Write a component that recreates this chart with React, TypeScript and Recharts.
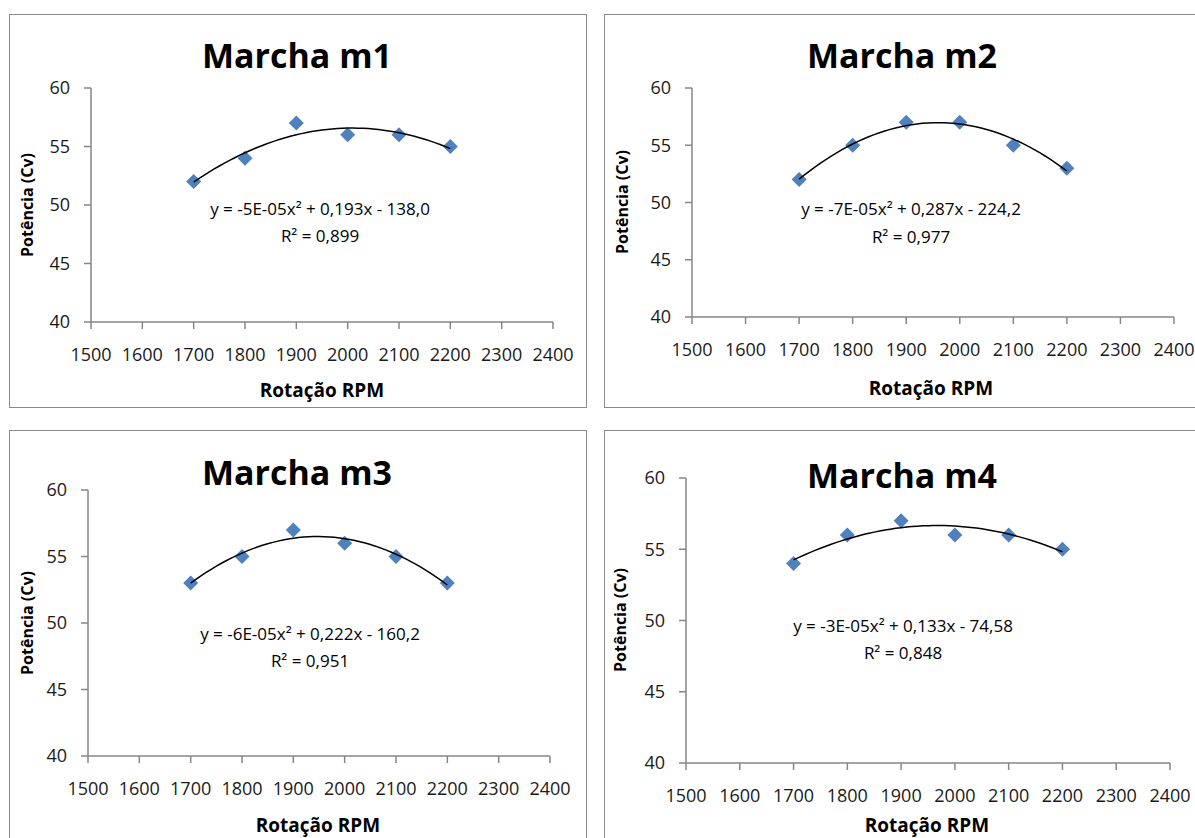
import React from 'react';
import { ScatterChart, Scatter, XAxis, YAxis } from 'recharts';

// ---- data ----
const rpm = [1700, 1800, 1900, 2000, 2100, 2200];
const potM1 = [52, 54, 57, 56, 56, 55];
const potM2 = [52, 55, 57, 57, 55, 53];
const potM3 = [53, 55, 57, 56, 55, 53];
const potM4 = [54, 56, 57, 56, 56, 55];
const titles = ['Marcha m1', 'Marcha m2', 'Marcha m3', 'Marcha m4'];
const equations = [
  'y = -5E-05x² + 0,193x - 138,0',
  'y = -7E-05x² + 0,287x - 224,2',
  'y = -6E-05x² + 0,222x - 160,2',
  'y = -3E-05x² + 0,133x - 74,58',
];
const r2Labels = ['R² = 0,899', 'R² = 0,977', 'R² = 0,951', 'R² = 0,848'];
const xTicks = [1500, 1600, 1700, 1800, 1900, 2000, 2100, 2200, 2300, 2400];
const yTicks = [40, 45, 50, 55, 60];
const xTitle = 'Rotação RPM';
const yTitle = 'Potência (Cv)';

// ---- layout (page coordinates) ----
type Layout = {
  box: { left: number; top: number; w: number; h: number };
  plot: { l: number; t: number; r: number; b: number };
  title: [number, number];
  eq: [number, number];
  r2: [number, number];
  xt: [number, number];
  yt: [number, number];
};
const layouts: Layout[] = [
  { box: { left: 9, top: 14, w: 578, h: 394 }, plot: { l: 91, t: 88, r: 553, b: 322 }, title: [297, 55], eq: [320, 208], r2: [320, 235], xt: [322, 390], yt: [27, 205] },
  { box: { left: 604, top: 14, w: 600, h: 394 }, plot: { l: 692, t: 88, r: 1174, b: 317 }, title: [902, 55], eq: [911, 208], r2: [911, 236], xt: [931, 388], yt: [622, 202] },
  { box: { left: 9, top: 430, w: 578, h: 430 }, plot: { l: 88, t: 490, r: 550, b: 756 }, title: [297, 472], eq: [310, 633], r2: [310, 660], xt: [318, 825], yt: [27, 623] },
  { box: { left: 604, top: 430, w: 600, h: 430 }, plot: { l: 686, t: 478, r: 1170, b: 763 }, title: [902, 475], eq: [903, 625], r2: [903, 652], xt: [927, 825], yt: [620, 620] },
];

// quadratic least-squares trendline (as Excel computes it)
function fitQuadratic(xs: number[], ys: number[]) {
  const c0 = 1950, s = 100;
  const t = xs.map((x) => (x - c0) / s);
  const S = (f: (i: number) => number) => t.reduce((acc, _, i) => acc + f(i), 0);
  const n = t.length;
  const s1 = S((i) => t[i]), s2 = S((i) => t[i] ** 2), s3 = S((i) => t[i] ** 3), s4 = S((i) => t[i] ** 4);
  const sy = S((i) => ys[i]), sty = S((i) => t[i] * ys[i]), st2y = S((i) => t[i] ** 2 * ys[i]);
  const A = [[n, s1, s2], [s1, s2, s3], [s2, s3, s4]];
  const B = [sy, sty, st2y];
  const det = (M: number[][]) =>
    M[0][0] * (M[1][1] * M[2][2] - M[1][2] * M[2][1]) -
    M[0][1] * (M[1][0] * M[2][2] - M[1][2] * M[2][0]) +
    M[0][2] * (M[1][0] * M[2][1] - M[1][1] * M[2][0]);
  const D = det(A);
  const coef = [0, 1, 2].map((k) => det(A.map((row, r) => row.map((v, c) => (c === k ? B[r] : v)))) / D);
  const f = (x: number) => {
    const tt = (x - c0) / s;
    return coef[0] + coef[1] * tt + coef[2] * tt * tt;
  };
  const pts = [];
  for (let x = xs[0]; x <= xs[xs.length - 1]; x += 10) pts.push({ x, y: f(x) });
  return pts;
}

const series = [potM1, potM2, potM3, potM4];

const Diamond = (props: any) => {
  const { cx, cy } = props;
  if (cx == null || cy == null) return <g />;
  const r = 7.5;
  return <path d={`M${cx},${cy - r}L${cx + r},${cy}L${cx},${cy + r}L${cx - r},${cy}Z`} fill="#4f81bd" />;
};
const NoShape = () => <g />;

const font = "'Open Sans', 'DejaVu Sans', sans-serif";
const Y_AXIS_W = 40;
const X_AXIS_H = 40;

function Panel({ idx }: { idx: number }) {
  const L = layouts[idx];
  const data = rpm.map((x, i) => ({ x, y: series[idx][i] }));
  const trend = fitQuadratic(rpm, series[idx]);
  const margin = {
    left: L.plot.l - L.box.left - Y_AXIS_W,
    top: L.plot.t - L.box.top,
    right: L.box.left + L.box.w - L.plot.r,
    bottom: L.box.top + L.box.h - L.plot.b - X_AXIS_H,
  };
  const center = (p: [number, number], style: React.CSSProperties, text: string, rotate = false) => (
    <div
      style={{
        position: 'absolute',
        left: p[0],
        top: p[1],
        transform: `translate(-50%, -50%)${rotate ? ' rotate(-90deg)' : ''}`,
        whiteSpace: 'nowrap',
        fontFamily: font,
        color: '#000',
        lineHeight: 1,
        ...style,
      }}
    >
      {text}
    </div>
  );
  return (
    <>
      <div
        style={{
          position: 'absolute',
          left: L.box.left,
          top: L.box.top,
          width: L.box.w,
          height: L.box.h,
          border: '1.5px solid #8a8a8a',
          boxSizing: 'border-box',
        }}
      />
      <div style={{ position: 'absolute', left: L.box.left, top: L.box.top }}>
        <ScatterChart width={L.box.w} height={L.box.h} margin={margin}>
          <XAxis
            type="number"
            dataKey="x"
            domain={[1500, 2400]}
            ticks={xTicks}
            interval={0}
            height={X_AXIS_H}
            tickSize={7}
            tickMargin={19}
            axisLine={{ stroke: '#868686', strokeWidth: 1.5 }}
            tickLine={{ stroke: '#868686', strokeWidth: 1.5 }}
            tick={{ fill: '#1a1a1a', fontSize: 18, fontFamily: font }}
            allowDataOverflow
          />
          <YAxis
            type="number"
            dataKey="y"
            domain={[40, 60]}
            ticks={yTicks}
            interval={0}
            width={Y_AXIS_W}
            tickSize={7}
            tickMargin={14}
            axisLine={{ stroke: '#868686', strokeWidth: 1.5 }}
            tickLine={{ stroke: '#868686', strokeWidth: 1.5 }}
            tick={{ fill: '#1a1a1a', fontSize: 18, fontFamily: font }}
            allowDataOverflow
          />
          <Scatter data={data} shape={Diamond} isAnimationActive={false} />
          <Scatter
            data={trend}
            shape={NoShape}
            line={{ stroke: '#000', strokeWidth: 1.5 }}
            isAnimationActive={false}
          />
        </ScatterChart>
      </div>
      {center(L.title, { fontSize: 34, fontWeight: 700 }, titles[idx])}
      {center(L.eq, { fontSize: 17 }, equations[idx])}
      {center(L.r2, { fontSize: 17 }, r2Labels[idx])}
      {center(L.xt, { fontSize: 19, fontWeight: 700 }, xTitle)}
      {center(L.yt, { fontSize: 16, fontWeight: 700 }, yTitle, true)}
    </>
  );
}

export default function App() {
  return (
    <div
      style={{
        position: 'absolute',
        left: 0,
        top: 0,
        width: 1195,
        height: 838,
        overflow: 'hidden',
        background: '#fff',
      }}
    >
      {[0, 1, 2, 3].map((i) => (
        <Panel key={i} idx={i} />
      ))}
    </div>
  );
}
